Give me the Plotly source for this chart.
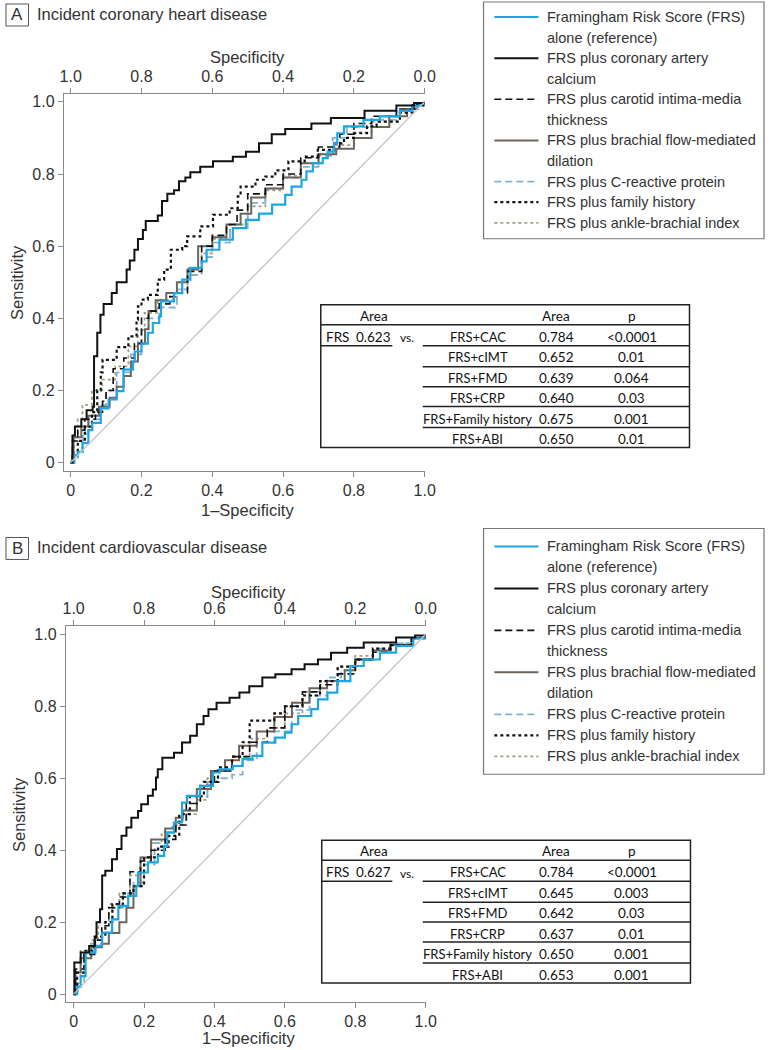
import plotly.graph_objects as go

W, H = 776, 1050

# ---------------- Data: Panel A (Incident coronary heart disease) ----------------
# x = 1 - specificity, y = sensitivity
a_frs_x = [0, 0.01, 0.02, 0.033, 0.05, 0.061, 0.085, 0.107, 0.13, 0.149, 0.176, 0.181, 0.2, 0.218, 0.232, 0.25, 0.255,
           0.292, 0.315, 0.338, 0.37, 0.384, 0.42, 0.458, 0.495, 0.532, 0.569, 0.606, 0.624, 0.652, 0.666, 0.684, 0.712,
           0.726, 0.744, 0.753, 0.772, 0.827, 0.873, 0.93, 0.965, 0.985, 1.0]
a_frs_y = [0, 0.02, 0.03, 0.054, 0.09, 0.11, 0.15, 0.175, 0.198, 0.258, 0.28, 0.308, 0.33, 0.36, 0.387, 0.405, 0.447,
           0.47, 0.507, 0.54, 0.558, 0.59, 0.618, 0.65, 0.673, 0.69, 0.715, 0.742, 0.765, 0.784, 0.807, 0.83, 0.844,
           0.862, 0.885, 0.913, 0.932, 0.95, 0.96, 0.975, 0.988, 0.995, 1.0]

a_cac_x = [0, 0.005, 0.012, 0.03, 0.045, 0.062, 0.066, 0.075, 0.084, 0.093, 0.116, 0.13, 0.158, 0.167, 0.18, 0.19, 0.204,
           0.212, 0.246, 0.258, 0.273, 0.292, 0.306, 0.324, 0.338, 0.366, 0.402, 0.458, 0.495, 0.532, 0.568, 0.606, 0.68,
           0.735, 0.83, 0.92, 0.97, 1.0]
a_cac_y = [0, 0.075, 0.10, 0.12, 0.145, 0.155, 0.295, 0.36, 0.41, 0.44, 0.47, 0.50, 0.535, 0.56, 0.59, 0.62, 0.645,
           0.67, 0.685, 0.725, 0.745, 0.755, 0.78, 0.79, 0.805, 0.82, 0.835, 0.848, 0.862, 0.885, 0.91, 0.925, 0.94,
           0.955, 0.975, 0.99, 0.997, 1.0]

a_cimt_x = [0, 0.005, 0.02, 0.04, 0.07, 0.09, 0.1, 0.12, 0.15, 0.18, 0.2, 0.22, 0.25, 0.28, 0.3, 0.33, 0.37, 0.4, 0.44,
            0.47, 0.5, 0.55, 0.6, 0.65, 0.7, 0.76, 0.8, 0.85, 0.92, 0.965, 1.0]
a_cimt_y = [0, 0.06, 0.09, 0.12, 0.14, 0.17, 0.2, 0.26, 0.29, 0.33, 0.40, 0.42, 0.44, 0.46, 0.47, 0.53, 0.60, 0.63, 0.66,
            0.70, 0.745, 0.77, 0.80, 0.845, 0.875, 0.91, 0.94, 0.96, 0.98, 0.992, 1.0]

a_fmd_x = [0, 0.008, 0.03, 0.05, 0.08, 0.11, 0.13, 0.15, 0.17, 0.19, 0.21, 0.22, 0.24, 0.27, 0.3, 0.33, 0.36, 0.4, 0.44,
           0.48, 0.51, 0.55, 0.6, 0.65, 0.7, 0.75, 0.8, 0.85, 0.9, 0.95, 0.98, 1.0]
a_fmd_y = [0, 0.07, 0.10, 0.13, 0.155, 0.18, 0.21, 0.24, 0.28, 0.33, 0.37, 0.42, 0.45, 0.47, 0.50, 0.535, 0.60, 0.625,
           0.66, 0.69, 0.735, 0.76, 0.79, 0.83, 0.855, 0.87, 0.90, 0.93, 0.96, 0.98, 0.992, 1.0]

a_crp_x = [0, 0.01, 0.02, 0.035, 0.05, 0.08, 0.1, 0.13, 0.17, 0.2, 0.22, 0.25, 0.3, 0.33, 0.37, 0.4, 0.45, 0.5, 0.55,
           0.6, 0.65, 0.7, 0.74, 0.78, 0.85, 0.92, 0.965, 1.0]
a_crp_y = [0, 0.01, 0.03, 0.08, 0.12, 0.16, 0.2, 0.25, 0.30, 0.37, 0.40, 0.43, 0.48, 0.52, 0.57, 0.61, 0.65, 0.72, 0.76,
           0.79, 0.82, 0.85, 0.90, 0.93, 0.95, 0.975, 0.99, 1.0]

a_fam_x = [0, 0.005, 0.02, 0.04, 0.06, 0.075, 0.085, 0.09, 0.13, 0.163, 0.186, 0.19, 0.2, 0.218, 0.246, 0.264, 0.283,
           0.315, 0.329, 0.366, 0.402, 0.449, 0.472, 0.48, 0.522, 0.55, 0.578, 0.615, 0.661, 0.698, 0.744, 0.772, 0.8,
           0.837, 0.864, 0.93, 0.97, 1.0]
a_fam_y = [0, 0.02, 0.06, 0.10, 0.14, 0.20, 0.25, 0.285, 0.32, 0.35, 0.396, 0.433, 0.452, 0.465, 0.507, 0.535, 0.59,
           0.60, 0.627, 0.655, 0.687, 0.705, 0.738, 0.765, 0.784, 0.793, 0.81, 0.835, 0.848, 0.867, 0.885, 0.90, 0.913,
           0.932, 0.945, 0.97, 0.99, 1.0]

a_abi_x = [0, 0.01, 0.02, 0.033, 0.06, 0.089, 0.126, 0.163, 0.19, 0.209, 0.246, 0.3, 0.33, 0.37, 0.4, 0.45, 0.5, 0.55,
           0.6, 0.65, 0.7, 0.75, 0.8, 0.85, 0.92, 0.965, 1.0]
a_abi_y = [0, 0.07, 0.12, 0.16, 0.20, 0.23, 0.267, 0.322, 0.368, 0.415, 0.452, 0.48, 0.54, 0.58, 0.62, 0.66, 0.71,
           0.755, 0.795, 0.83, 0.855, 0.88, 0.915, 0.945, 0.97, 0.99, 1.0]

# ---------------- Data: Panel B (Incident cardiovascular disease) ----------------
b_frs_x = [0, 0.01, 0.02, 0.034, 0.062, 0.081, 0.109, 0.127, 0.155, 0.178, 0.183, 0.211, 0.239, 0.257, 0.266, 0.285,
           0.308, 0.322, 0.359, 0.396, 0.415, 0.452, 0.48, 0.508, 0.536, 0.573, 0.6, 0.619, 0.638, 0.675, 0.694, 0.721,
           0.749, 0.786, 0.824, 0.87, 0.916, 0.965, 1.0]
b_frs_y = [0, 0.02, 0.05, 0.116, 0.134, 0.171, 0.208, 0.245, 0.273, 0.301, 0.338, 0.366, 0.384, 0.412, 0.449, 0.477,
           0.532, 0.551, 0.579, 0.616, 0.625, 0.634, 0.653, 0.662, 0.699, 0.713, 0.727, 0.75, 0.773, 0.792, 0.819,
           0.838, 0.87, 0.912, 0.93, 0.949, 0.968, 0.988, 1.0]

b_cac_x = [0, 0.002, 0.02, 0.044, 0.06, 0.065, 0.075, 0.081, 0.09, 0.109, 0.123, 0.136, 0.15, 0.164, 0.183, 0.192,
           0.211, 0.225, 0.234, 0.239, 0.252, 0.285, 0.308, 0.331, 0.35, 0.369, 0.383, 0.406, 0.443, 0.471, 0.499,
           0.536, 0.573, 0.619, 0.656, 0.694, 0.731, 0.777, 0.824, 0.916, 0.97, 1.0]
b_cac_y = [0, 0.088, 0.116, 0.134, 0.157, 0.20, 0.236, 0.33, 0.343, 0.375, 0.403, 0.44, 0.463, 0.49, 0.509, 0.528,
           0.551, 0.569, 0.602, 0.625, 0.657, 0.671, 0.699, 0.718, 0.75, 0.773, 0.792, 0.81, 0.824, 0.838, 0.856,
           0.88, 0.889, 0.903, 0.917, 0.93, 0.949, 0.963, 0.977, 0.991, 0.997, 1.0]

b_cimt_x = [0, 0.005, 0.03, 0.06, 0.08, 0.1, 0.13, 0.16, 0.19, 0.22, 0.26, 0.29, 0.32, 0.36, 0.4, 0.45, 0.5, 0.55,
            0.6, 0.65, 0.7, 0.75, 0.8, 0.85, 0.9, 0.96, 1.0]
b_cimt_y = [0, 0.07, 0.11, 0.15, 0.19, 0.24, 0.27, 0.34, 0.37, 0.40, 0.43, 0.47, 0.53, 0.58, 0.62, 0.66, 0.70, 0.74,
            0.80, 0.84, 0.86, 0.89, 0.93, 0.95, 0.97, 0.99, 1.0]

b_fmd_x = [0, 0.005, 0.02, 0.05, 0.08, 0.1, 0.13, 0.15, 0.17, 0.19, 0.22, 0.26, 0.29, 0.31, 0.35, 0.39, 0.43, 0.47,
           0.52, 0.57, 0.62, 0.67, 0.72, 0.77, 0.8, 0.85, 0.9, 0.96, 1.0]
b_fmd_y = [0, 0.06, 0.10, 0.13, 0.14, 0.17, 0.20, 0.24, 0.30, 0.38, 0.43, 0.46, 0.49, 0.51, 0.57, 0.62, 0.65, 0.69,
           0.73, 0.77, 0.81, 0.85, 0.87, 0.90, 0.93, 0.955, 0.97, 0.99, 1.0]

b_crp_x = [0, 0.01, 0.03, 0.05, 0.08, 0.11, 0.14, 0.17, 0.2, 0.23, 0.26, 0.29, 0.32, 0.35, 0.38, 0.42, 0.45, 0.48,
           0.52, 0.57, 0.62, 0.67, 0.72, 0.76, 0.8, 0.85, 0.9, 0.96, 1.0]
b_crp_y = [0, 0.03, 0.10, 0.14, 0.17, 0.24, 0.28, 0.31, 0.36, 0.42, 0.45, 0.48, 0.51, 0.55, 0.59, 0.60, 0.61, 0.65,
           0.70, 0.73, 0.79, 0.83, 0.88, 0.90, 0.93, 0.96, 0.975, 0.99, 1.0]

b_fam_x = [0, 0.01, 0.03, 0.06, 0.09, 0.11, 0.14, 0.17, 0.2, 0.24, 0.27, 0.3, 0.33, 0.37, 0.41, 0.45, 0.48, 0.5, 0.54,
           0.57, 0.6, 0.65, 0.7, 0.75, 0.8, 0.85, 0.9, 0.96, 1.0]
b_fam_y = [0, 0.06, 0.12, 0.16, 0.20, 0.25, 0.28, 0.30, 0.38, 0.41, 0.44, 0.50, 0.55, 0.59, 0.63, 0.66, 0.70, 0.76,
           0.76, 0.78, 0.80, 0.83, 0.87, 0.91, 0.93, 0.96, 0.97, 0.99, 1.0]

b_abi_x = [0, 0.005, 0.02, 0.05, 0.07, 0.1, 0.13, 0.16, 0.19, 0.22, 0.25, 0.28, 0.31, 0.35, 0.38, 0.41, 0.45, 0.5,
           0.55, 0.6, 0.65, 0.7, 0.75, 0.8, 0.85, 0.9, 0.96, 1.0]
b_abi_y = [0, 0.05, 0.12, 0.15, 0.20, 0.25, 0.28, 0.33, 0.38, 0.42, 0.45, 0.47, 0.50, 0.54, 0.60, 0.63, 0.66, 0.71,
           0.74, 0.78, 0.84, 0.87, 0.91, 0.94, 0.96, 0.975, 0.99, 1.0]

diag_x = [0, 1]
diag_y = [0, 1]

# ---------------- Labels ----------------
panel_letters = ["A", "B"]
panel_titles = ["Incident coronary heart disease", "Incident cardiovascular disease"]
legend_labels = ["Framingham Risk Score (FRS)<br>alone (reference)",
                 "FRS plus coronary artery<br>calcium",
                 "FRS plus carotid intima-media<br>thickness",
                 "FRS plus brachial flow-mediated<br>dilation",
                 "FRS plus C-reactive protein",
                 "FRS plus family history",
                 "FRS plus ankle-brachial index"]
tick_vals = [0, 0.2, 0.4, 0.6, 0.8, 1.0]
bottom_ticktext = ["0", "0.2", "0.4", "0.6", "0.8", "1.0"]
left_ticktext = ["0", "0.2", "0.4", "0.6", "0.8", "1.0"]
top_ticktext = ["1.0", "0.8", "0.6", "0.4", "0.2", "0.0"]

table_models = ["FRS+CAC", "FRS+cIMT", "FRS+FMD", "FRS+CRP", "FRS+Family history", "FRS+ABI"]
table_a_area = ["0.784", "0.652", "0.639", "0.640", "0.675", "0.650"]
table_a_p = ["<0.0001", "0.01", "0.064", "0.03", "0.001", "0.01"]
table_a_frs = "0.623"
table_b_area = ["0.784", "0.645", "0.642", "0.637", "0.650", "0.653"]
table_b_p = ["<0.0001", "0.003", "0.03", "0.01", "0.001", "0.001"]
table_b_frs = "0.627"

# ---------------- Styles ----------------
styles = [  # color, width, dash
    ("#1ea6e4", 2.2, "solid"),   # FRS
    ("#111111", 2.0, "solid"),   # CAC
    ("#111111", 1.6, "7px,4px"), # cIMT
    ("#6d645b", 2.0, "solid"),   # FMD
    ("#7fb3d2", 1.8, "7px,4px"), # CRP
    ("#111111", 2.2, "dot"),     # Family history
    ("#a59d86", 1.8, "dot"),     # ABI
]

FONT = "Liberation Sans, Arial, sans-serif"
TFONT = "Lato, Liberation Sans, sans-serif"
TXT = "#333333"
AXC = "#8a8a8a"


def pxx(x):
    return x / W


def pyy(y):
    return 1 - y / H


fig = go.Figure()

panels = [
    dict(xa="x", ya="y", xt="x3",
         series=[(a_frs_x, a_frs_y), (a_cac_x, a_cac_y), (a_cimt_x, a_cimt_y), (a_fmd_x, a_fmd_y),
                 (a_crp_x, a_crp_y), (a_fam_x, a_fam_y), (a_abi_x, a_abi_y)]),
    dict(xa="x2", ya="y2", xt="x4",
         series=[(b_frs_x, b_frs_y), (b_cac_x, b_cac_y), (b_cimt_x, b_cimt_y), (b_fmd_x, b_fmd_y),
                 (b_crp_x, b_crp_y), (b_fam_x, b_fam_y), (b_abi_x, b_abi_y)]),
]

draw_order = [6, 4, 3, 2, 5, 0, 1]
for p in panels:
    fig.add_trace(go.Scatter(x=diag_x, y=diag_y, mode="lines", xaxis=p["xt"], yaxis=p["ya"],
                             line=dict(color="#c8c8c8", width=1.4), showlegend=False, hoverinfo="skip"))
    for i in draw_order:
        sx, sy = p["series"][i]
        c, w, d = styles[i]
        fig.add_trace(go.Scatter(x=sx, y=sy, mode="lines", xaxis=p["xa"], yaxis=p["ya"],
                                 line=dict(color=c, width=w, dash=d, shape="hv"),
                                 name=legend_labels[i].replace("<br>", " "), showlegend=False))

# axes geometry in pixels
geo = [
    dict(l=61, r=429, t=94, b=471, xr=[-0.0194, 1.0], yr=[-0.022, 1.022]),
    dict(l=63, r=430, t=627, b=1003, xr=[-0.0223, 1.0], yr=[-0.022, 1.022]),
]

axis_common = dict(showline=True, linecolor=AXC, linewidth=1, ticks="outside", ticklen=5, tickcolor=AXC,
                   tickwidth=1, showgrid=False, zeroline=False, tickvals=tick_vals,
                   tickfont=dict(family=FONT, size=16, color=TXT))

layout = dict(width=W, height=H, autosize=False, margin=dict(l=0, r=0, t=0, b=0),
              paper_bgcolor="white", plot_bgcolor="white", showlegend=False)

for k, g in enumerate(geo):
    xd = [pxx(g["l"]), pxx(g["r"])]
    yd = [pyy(g["b"]), pyy(g["t"])]
    xn = "xaxis" if k == 0 else "xaxis2"
    yn = "yaxis" if k == 0 else "yaxis2"
    tn = "xaxis3" if k == 0 else "xaxis4"
    ya = "y" if k == 0 else "y2"
    xa = "x" if k == 0 else "x2"
    layout[xn] = dict(domain=xd, range=g["xr"], anchor=ya, ticktext=bottom_ticktext, **axis_common)
    layout[yn] = dict(domain=yd, range=g["yr"], anchor=xa, ticktext=left_ticktext, **axis_common)
    layout[tn] = dict(range=g["xr"], anchor=ya, overlaying=xa, side="top", ticktext=top_ticktext, **axis_common)

fig.update_layout(**layout)

shapes = []
annotations = []


def text(x, y, s, size=16, anchor="center", font=FONT, color=TXT, angle=0):
    annotations.append(dict(x=pxx(x), y=pyy(y), xref="paper", yref="paper", text=s, showarrow=False,
                            xanchor=anchor, yanchor="middle", textangle=angle,
                            font=dict(family=font, size=size, color=color)))


def hline(x0, x1, y, color="#222222", width=1.5):
    shapes.append(dict(type="line", xref="paper", yref="paper", x0=pxx(x0), x1=pxx(x1), y0=pyy(y), y1=pyy(y),
                       line=dict(color=color, width=width)))


def rect(x0, y0, x1, y1, color="#222222", width=1.5):
    shapes.append(dict(type="rect", xref="paper", yref="paper", x0=pxx(x0), x1=pxx(x1), y0=pyy(y1), y1=pyy(y0),
                       line=dict(color=color, width=width), fillcolor="rgba(0,0,0,0)"))


# Panel titles, axis titles
offsets = [0, 536]
for k, off in enumerate(offsets):
    g = geo[k]
    dy = -2 if k else 0
    rect(2, 4 + off + dy, 25, 26 + off + dy, color="#555555", width=1)
    text(13.5, 15 + off + dy, panel_letters[k], size=17)
    text(32, 14 + off + dy, panel_titles[k], size=16.5, anchor="left")
    cx = (g["l"] + g["r"]) / 2 + 3
    text(cx, 57 + off, "Specificity", size=16.5)
    text(cx, (510 if k == 0 else 1039), "1\u2013Specificity", size=16.5)
    text(14 + (2 if k else 0), (g["t"] + g["b"]) / 2, "Sensitivity", size=16.5, angle=-90)

# Legends (custom)
leg = [dict(box=(489, 2, 775, 239), y0=17, pitch=20.6),
       dict(box=(489, 529, 775, 775), y0=547, pitch=21.0)]
for lg in leg:
    x0, y0, x1, y1 = lg["box"]
    rect(x0, y0, x1, y1, color="#777777", width=1.2)
    line_idx = 0
    for i, lab in enumerate(legend_labels):
        c, w, d = styles[i]
        yy = lg["y0"] + lg["pitch"] * line_idx
        shapes.append(dict(type="line", xref="paper", yref="paper", x0=pxx(500), x1=pxx(545), y0=pyy(yy),
                           y1=pyy(yy), line=dict(color=c, width=w, dash=d)))
        for part in lab.split("<br>"):
            yy = lg["y0"] + lg["pitch"] * line_idx
            text(552, yy, part, size=14.5, anchor="left")
            line_idx += 1

# Tables
tables = [dict(off=0, frs=table_a_frs, area=table_a_area, p=table_a_p, box=(323, 305, 699, 448)),
          dict(off=536, frs=table_b_frs, area=table_b_area, p=table_b_p, box=(324, 841, 700, 984))]
for tb in tables:
    o = tb["off"]
    bx0, by0, bx1, by1 = tb["box"]
    rect(bx0, by0, bx1, by1, color="#222222", width=1.5)
    hline(bx0, bx1, 325 + o)
    hline(bx0, 396, 346 + o)
    for ly in [346, 367, 387, 407, 428]:
        hline(427, bx1, ly + o)
    text(377, 316 + o, "Area", size=13.5, font=TFONT, color="#111111")
    text(563, 316 + o, "Area", size=13.5, font=TFONT, color="#111111")
    text(640, 316 + o, "p", size=13.5, font=TFONT, color="#111111")
    text(340, 337 + o, "FRS", size=13.5, font=TFONT, color="#111111")
    text(377, 337 + o, tb["frs"], size=13.5, font=TFONT, color="#111111")
    text(411, 338 + o, "vs.", size=12, font=TFONT, color="#111111")
    for r in range(6):
        ry = 337 + o + r * 20.5
        text(483, ry, table_models[r], size=13, font=TFONT, color="#111111")
        text(563, ry, tb["area"][r], size=13.5, font=TFONT, color="#111111")
        text(640, ry, tb["p"][r], size=13.5, font=TFONT, color="#111111")

fig.update_layout(shapes=shapes, annotations=annotations)
fig.write_html("out.html", config={"displayModeBar": False},
               post_script="document.body.style.margin='0';document.body.style.padding='0';"
                           "document.documentElement.style.overflow='hidden';")
